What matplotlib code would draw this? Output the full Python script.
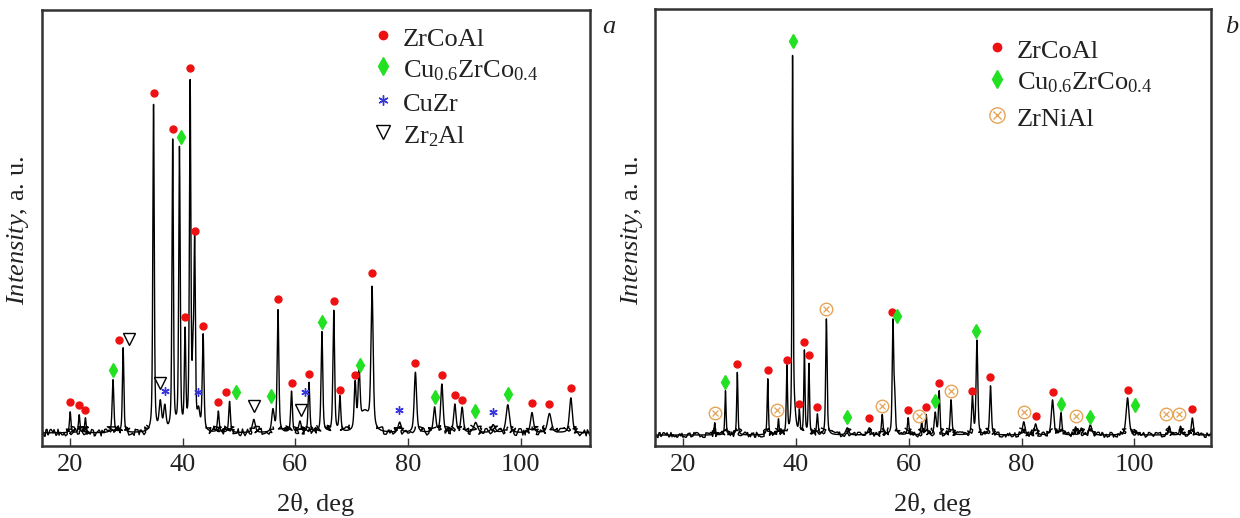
import numpy as np
import matplotlib.pyplot as plt

plt.rcParams['font.family'] = 'Liberation Serif'
plt.rcParams['mathtext.fontset'] = 'custom'
plt.rcParams['mathtext.rm'] = 'Liberation Serif'
plt.rcParams['mathtext.it'] = 'Liberation Serif:italic'

# --- panel a: peak list (2theta, height, fwhm) ---
bg_a = 3.0
pos_a = [20.0, 21.6, 22.7, 27.6, 29.4, 34.8, 36.0, 36.8, 38.2, 39.4, 40.4, 41.3,
         41.8, 42.1, 42.8, 43.6, 46.3, 48.3, 52.6, 56.0, 56.9, 59.3, 60.8, 62.4,
         64.7, 66.8, 67.9, 70.6, 71.3, 72.3, 73.6, 78.5, 81.3, 84.7, 86.0, 88.3,
         89.6, 92.0, 95.1, 97.7, 102.0, 105.1, 108.9]
height_a = [4.8, 4.1, 3.4, 12.1, 19.4, 75.0, 6.5, 5.5, 66.5, 64.5, 22.0, 79.0,
            14.0, 42.0, 4.0, 22.0, 4.8, 7.1, 3.0, 5.0, 28.0, 9.4, 2.5, 11.4,
            23.0, 27.8, 8.0, 10.5, 12.5, 4.5, 32.0, 2.3, 13.8, 5.7, 11.0, 6.4,
            5.7, 2.3, 1.8, 6.4, 4.6, 4.4, 8.0]
fwhm_a = [0.3, 0.3, 0.3, 0.35, 0.3, 0.3, 0.5, 0.5, 0.3, 0.3, 0.3, 0.3,
          0.3, 0.3, 0.5, 0.35, 0.35, 0.35, 0.6, 0.5, 0.35, 0.35, 0.5, 0.35,
          0.35, 0.35, 0.35, 0.4, 0.4, 2.0, 0.45, 0.6, 0.5, 0.5, 0.5, 0.5,
          0.5, 0.8, 0.8, 0.7, 0.6, 0.8, 0.6]

# phase markers, panel a (2theta, marker height)
zrcoal_a_x = [20.0, 21.5, 22.6, 28.7, 34.8, 38.3, 40.4, 41.3, 42.1, 43.6, 46.3, 47.7,
              56.9, 59.3, 62.4, 66.9, 67.9, 70.6, 73.6, 81.3, 86.0, 88.3, 89.6,
              102.0, 105.0, 108.9]
zrcoal_a_y = [10.1, 9.4, 8.2, 24.3, 81.0, 72.8, 29.5, 86.7, 49.2, 27.5, 10.1, 12.4,
              33.6, 14.4, 16.5, 33.2, 12.8, 16.2, 39.6, 19.0, 16.2, 11.7, 10.5,
              9.8, 9.6, 13.3]
cuzrco_a_x = [27.6, 39.6, 49.5, 55.7, 64.7, 71.5, 84.7, 91.8, 97.7]
cuzrco_a_y = [17.4, 70.9, 12.4, 11.4, 28.4, 18.5, 11.2, 8.0, 11.9]
cuzr_a_x = [36.9, 42.7, 61.7, 78.4, 95.1]
cuzr_a_y = [12.6, 12.4, 12.4, 8.2, 7.8]
zr2al_a_x = [30.4, 36.0, 52.6, 61.0]
zr2al_a_y = [24.5, 14.4, 9.2, 8.2]

# --- panel b ---
bg_b = 2.5
pos_b = [25.6, 27.5, 29.6, 35.0, 36.9, 38.4, 39.4, 39.6, 40.6, 41.5, 42.3, 43.8,
         45.4, 49.1, 53.0, 55.3, 57.2, 57.5, 59.9, 62.3, 63.1, 64.7, 65.4, 67.5,
         71.3, 72.1, 74.5, 80.4, 82.5, 85.5, 87.0, 89.6, 90.6, 92.2, 98.8, 100.3,
         106.2, 108.2, 110.3]
height_b = [2.8, 10.1, 14.3, 12.8, 3.5, 15.3, 82.0, 6.0, 5.0, 19.0, 16.0, 4.6,
            26.5, 1.6, 1.6, 4.6, 25.5, 8.0, 3.9, 2.8, 4.6, 5.0, 9.9, 8.0,
            8.5, 21.5, 11.2, 3.0, 2.5, 8.0, 5.0, 1.8, 1.5, 2.3, 8.5, 0.8,
            2.0, 2.0, 3.9]
fwhm_b = [0.25, 0.25, 0.25, 0.25, 0.25, 0.25, 0.22, 0.7, 0.25, 0.25, 0.25, 0.3,
          0.3, 0.6, 0.6, 0.3, 0.3, 0.3, 0.3, 0.3, 0.3, 0.4, 0.3, 0.35,
          0.35, 0.35, 0.35, 0.5, 0.5, 0.5, 0.35, 0.4, 0.4, 0.6, 0.6, 0.5,
          0.4, 0.4, 0.4]

zrcoal_b_x = [29.6, 35.0, 38.4, 40.6, 41.5, 42.3, 43.8, 53.0, 56.95, 59.9, 63.1, 65.4,
              71.3, 74.5, 82.5, 85.5, 98.8, 110.3]
zrcoal_b_y = [18.8, 17.4, 19.7, 9.6, 23.8, 20.8, 8.9, 6.4, 30.7, 8.2, 8.9, 14.4,
              12.6, 15.8, 6.9, 12.4, 12.8, 8.5]
cuzrco_b_x = [27.5, 39.4, 49.1, 57.9, 64.6, 71.85, 87.0, 92.2, 100.2]
cuzrco_b_y = [14.7, 92.7, 6.6, 29.8, 10.3, 26.3, 9.6, 6.6, 9.4]
zrnial_b_x = [25.6, 36.7, 45.4, 55.2, 61.8, 67.5, 80.4, 89.6, 105.7, 107.9]
zrnial_b_y = [7.6, 8.2, 31.4, 9.2, 6.9, 12.6, 7.8, 6.9, 7.3, 7.3]

# marker styles
RED = dict(marker='o', color='#ee1111', ms=5, ls='none')
GREEN = dict(marker='d', color='#22e022', ms=7.5, ls='none')
BLUE = dict(marker=(6, 2, 0), color='#3535dd', ms=6, mew=1.0, ls='none')
TRI = dict(marker='v', mfc='white', mec='black', ms=8, mew=1.0, ls='none')
ORANGE = '#e5a458'


def profile(x, pos, height, fwhm, bg):
    y = np.full_like(x, bg)
    for p, h, w in zip(pos, height, fwhm):
        d = (x - p) / w
        y += h * (0.5 / (1 + 4 * d**2) + 0.5 * np.exp(-4 * np.log(2) * d**2))
    return y


def draw_pattern(ax, x, y, bg, scale):
    # clean trace, then a jittered copy over the flat background only
    ax.plot(x, y, color='black', lw=1.0, zorder=2)
    flat = np.where(y - bg < 1.5, y, np.nan)
    ln, = ax.plot(x, flat, color='black', lw=1.0, zorder=2)
    ln.set_sketch_params(scale=scale, length=1.2, randomness=1.5)


def zrnial(ax, xs, ys, ms=9):
    ax.plot(xs, ys, 'o', mfc='none', mec=ORANGE, ms=ms, mew=1.0, zorder=4)
    ax.plot(xs, ys, 'x', color=ORANGE, ms=ms * 0.55, mew=0.9, zorder=4)


def setup(ax, xmax):
    ax.set_xlim(15, xmax)
    ax.set_ylim(0, 100)
    ax.set_yticks([])
    ax.set_xticks([20, 40, 60, 80, 100])
    ax.set_xticks([30, 50, 70, 90, 110], minor=True)
    ax.tick_params(axis='x', which='both', direction='in', length=6, width=1.0,
                   color='#333333', labelsize=19, pad=6, labelcolor='#222222')
    ax.tick_params(axis='x', which='minor', length=0)
    for s in ax.spines.values():
        s.set_linewidth(1.8)
        s.set_color('#333333')


fig = plt.figure(figsize=(12.4, 5.18), dpi=100)
ax1 = fig.add_axes([0.0339, 0.139, 0.4419, 0.8418])
ax2 = fig.add_axes([0.5282, 0.139, 0.4484, 0.8436])

# panel a
xa = np.arange(15, 112.3, 0.01)
draw_pattern(ax1, xa, profile(xa, pos_a, height_a, fwhm_a, bg_a), bg_a, 3.5)
ax1.plot(zrcoal_a_x, zrcoal_a_y, zorder=4, **RED)
ax1.plot(cuzrco_a_x, cuzrco_a_y, zorder=4, **GREEN)
ax1.plot(cuzr_a_x, cuzr_a_y, zorder=4, **BLUE)
ax1.plot(zr2al_a_x, zr2al_a_y, zorder=4, **TRI)
setup(ax1, 112.3)

# legend a
leg_a = [('ZrCoAl', RED, 0.943), ('Cu$_{0.6}$ZrCo$_{0.4}$', GREEN, 0.871),
         ('CuZr', BLUE, 0.793), ('Zr$_2$Al', TRI, 0.720)]
for lab, st, yy in leg_a:
    kw = dict(st)
    kw['ms'] = kw['ms'] * 1.2
    ax1.plot([0.622], [yy], transform=ax1.transAxes, clip_on=False, **kw)
    ax1.text(0.659, yy - 0.025, lab, transform=ax1.transAxes, fontsize=19,
             va='baseline', ha='left', color='#222222')

# panel b
xb = np.arange(15, 113.6, 0.01)
draw_pattern(ax2, xb, profile(xb, pos_b, height_b, fwhm_b, bg_b), bg_b, 2.5)
ax2.plot(zrcoal_b_x, zrcoal_b_y, zorder=4, **RED)
ax2.plot(cuzrco_b_x, cuzrco_b_y, zorder=4, **GREEN)
zrnial(ax2, zrnial_b_x, zrnial_b_y)
setup(ax2, 113.6)

leg_b = [('ZrCoAl', RED, 0.913), ('Cu$_{0.6}$ZrCo$_{0.4}$', GREEN, 0.839)]
for lab, st, yy in leg_b:
    kw = dict(st)
    kw['ms'] = kw['ms'] * 1.2
    ax2.plot([0.615], [yy], transform=ax2.transAxes, clip_on=False, **kw)
    ax2.text(0.651, yy - 0.024, lab, transform=ax2.transAxes, fontsize=19,
             va='baseline', ha='left', color='#222222')
ax2.plot([0.615], [0.757], 'o', mfc='none', mec=ORANGE, ms=11, mew=1.0, transform=ax2.transAxes)
ax2.plot([0.615], [0.757], 'x', color=ORANGE, ms=6, mew=1.0, transform=ax2.transAxes)
ax2.text(0.651, 0.757 - 0.024, 'ZrNiAl', transform=ax2.transAxes, fontsize=19,
         va='baseline', ha='left', color='#222222')

# axis labels and panel letters
for xc in (0.2548, 0.7524):
    fig.text(xc, 0.0135, '2θ, deg', fontsize=19, ha='center', va='baseline', color='#222222')
for xl in (0.0145, 0.5097):
    fig.text(xl, 0.555, '$\\mathit{Intensity}$, a. u.', fontsize=19, rotation=90,
             ha='center', va='center', color='#222222')
fig.text(0.491, 0.936, 'a', fontsize=19, style='italic', ha='center', va='baseline', color='#222222')
fig.text(0.9935, 0.936, 'b', fontsize=19, style='italic', ha='center', va='baseline', color='#222222')

fig.savefig('out.png', dpi=100)
